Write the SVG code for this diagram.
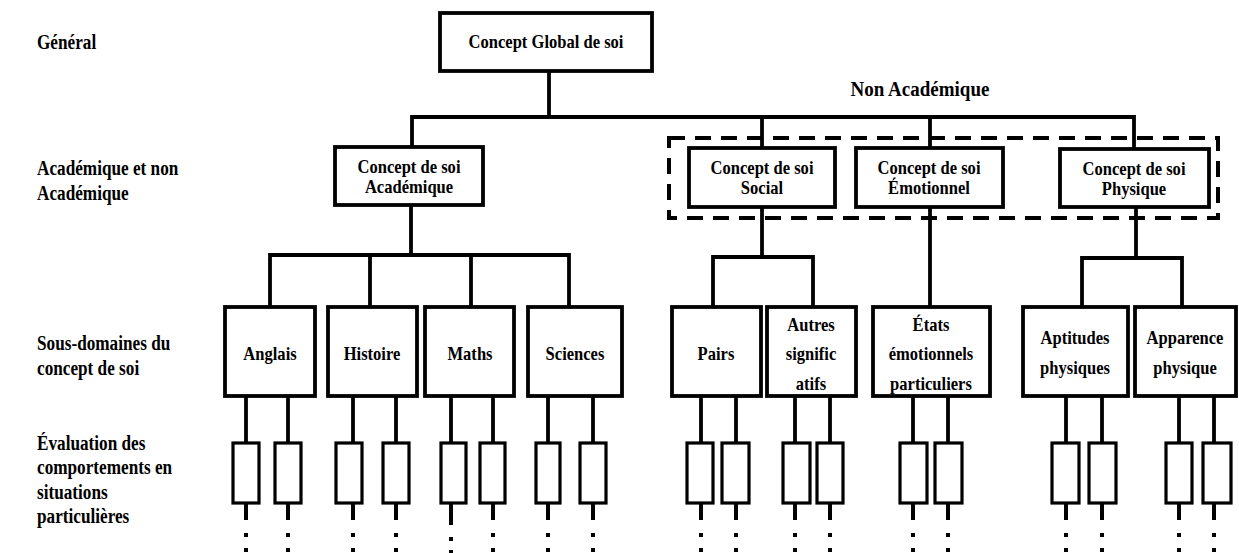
<svg xmlns="http://www.w3.org/2000/svg" width="1239" height="553" viewBox="0 0 1239 553" font-family="'Liberation Serif', 'DejaVu Serif', serif">
<defs>
<style>
text{font-family:'Liberation Serif','DejaVu Serif',serif;font-weight:700;fill:#000}
.lbl{font-size:20px}
.bt{font-size:18px;text-anchor:middle}
.box{fill:#fff;stroke:#000;stroke-width:3.8}
.sb{fill:#fff;stroke:#000;stroke-width:3.2}
.ln{fill:none;stroke:#000;stroke-width:3.8}
.dt{fill:none;stroke:#000;stroke-width:4;stroke-dasharray:17 13 4 11 4 20}
.dash{fill:none;stroke:#000;stroke-width:4;stroke-dasharray:16 10}
</style>
</defs>
<rect width="1239" height="553" fill="#fff"/>

<g id="level-labels">
<text class="lbl" transform="matrix(0.86,0,0,1,37,49)">Général</text>
<text class="lbl" transform="matrix(0.86,0,0,1,37,175)">Académique et non</text>
<text class="lbl" transform="matrix(0.86,0,0,1,37,200)">Académique</text>
<text class="lbl" transform="matrix(0.86,0,0,1,37,350)">Sous-domaines du</text>
<text class="lbl" transform="matrix(0.86,0,0,1,37,375)">concept de soi</text>
<text class="lbl" transform="matrix(0.86,0,0,1,37,450)">Évaluation des</text>
<text class="lbl" transform="matrix(0.86,0,0,1,37,474)">comportements en</text>
<text class="lbl" transform="matrix(0.86,0,0,1,37,499)">situations</text>
<text class="lbl" transform="matrix(0.86,0,0,1,37,523)">particulières</text>
<text transform="matrix(0.95,0,0,1,920,96)" style="font-size:20px;text-anchor:middle">Non Académique</text>
</g>

<g id="connectors">
<path class="ln" d="M549,71 V117"/>
<path class="ln" d="M412,147 V117 H1134 V149"/>
<path class="ln" d="M762,117 V148 M930,117 V148"/>
<path class="ln" d="M411,205 V255"/>
<path class="ln" d="M270,307 V255 H569 V307 M370,255 V307 M471,255 V307"/>
<path class="ln" d="M762,207 V257"/>
<path class="ln" d="M713,307 V257 H813 V307"/>
<path class="ln" d="M930,207 V306"/>
<path class="ln" d="M1136,207 V258"/>
<path class="ln" d="M1082,307 V258 H1182 V307"/>
<path class="ln" d="M246,396 V443 M288,396 V443 M353,396 V443 M396,396 V443 M451,396 V443 M493,396 V443 M548,396 V443 M593,396 V443 M701,396 V443 M736,396 V443 M795,396 V443 M830,396 V443 M913,396 V443 M948,396 V443 M1066,396 V443 M1102,396 V443 M1179,396 V443 M1214,396 V443"/>
<path class="dt" d="M246,503 V553 M288,503 V553 M353,503 V553 M396,503 V553 M493,503 V553 M548,503 V553 M593,503 V553 M701,503 V553 M736,503 V553 M795,503 V553 M830,503 V553 M913,503 V553 M948,503 V553 M1066,503 V553 M1102,503 V553 M1179,503 V553 M1214,503 V553"/>
<path class="dt" d="M451,503 V553" style="stroke-dasharray:22 12 4 9 4 20"/>
</g>

<g id="non-academique-group">
<rect class="dash" x="669" y="138" width="549" height="80"/>
</g>

<g id="global">
<rect class="box" x="440" y="13" width="212" height="58"/>
<text class="bt" transform="matrix(0.92,0,0,1,546,48)">Concept Global de soi</text>
</g>

<g id="academique">
<rect class="box" x="335" y="147" width="148" height="58"/>
<text class="bt" transform="matrix(0.92,0,0,1,409,173)">Concept de soi</text>
<text class="bt" transform="matrix(0.92,0,0,1,409,193)">Académique</text>
</g>
<g id="social">
<rect class="box" x="689" y="148" width="146" height="59"/>
<text class="bt" transform="matrix(0.92,0,0,1,762,174)">Concept de soi</text>
<text class="bt" transform="matrix(0.92,0,0,1,762,194)">Social</text>
</g>
<g id="emotionnel">
<rect class="box" x="856" y="148" width="147" height="59"/>
<text class="bt" transform="matrix(0.92,0,0,1,929,174)">Concept de soi</text>
<text class="bt" transform="matrix(0.92,0,0,1,929,194)">Émotionnel</text>
</g>
<g id="physique">
<rect class="box" x="1060" y="149" width="149" height="58"/>
<text class="bt" transform="matrix(0.92,0,0,1,1134,175)">Concept de soi</text>
<text class="bt" transform="matrix(0.92,0,0,1,1134,195)">Physique</text>
</g>

<g id="anglais"><rect class="box" x="225" y="307" width="90" height="89"/><text class="bt" transform="matrix(0.92,0,0,1,270,360)">Anglais</text></g>
<g id="histoire"><rect class="box" x="328" y="307" width="89" height="89"/><text class="bt" transform="matrix(0.92,0,0,1,372,360)">Histoire</text></g>
<g id="maths"><rect class="box" x="425" y="307" width="89" height="89"/><text class="bt" transform="matrix(0.92,0,0,1,470,360)">Maths</text></g>
<g id="sciences"><rect class="box" x="528" y="307" width="94" height="89"/><text class="bt" transform="matrix(0.92,0,0,1,575,360)">Sciences</text></g>
<g id="pairs"><rect class="box" x="672" y="307" width="89" height="89"/><text class="bt" transform="matrix(0.92,0,0,1,716,360)">Pairs</text></g>
<g id="autres"><rect class="box" x="767" y="307" width="89" height="89"/>
<text class="bt" transform="matrix(0.92,0,0,1,811,331)">Autres</text><text class="bt" transform="matrix(0.92,0,0,1,811,360)">signific</text><text class="bt" transform="matrix(0.92,0,0,1,811,390)">atifs</text></g>
<g id="etats"><rect class="box" x="873" y="307" width="117" height="89"/>
<text class="bt" transform="matrix(0.92,0,0,1,931,331)">États</text><text class="bt" transform="matrix(0.92,0,0,1,931,360)">émotionnels</text><text class="bt" transform="matrix(0.92,0,0,1,931,390)">particuliers</text></g>
<g id="aptitudes"><rect class="box" x="1023" y="307" width="105" height="89"/>
<text class="bt" transform="matrix(0.92,0,0,1,1075,344)">Aptitudes</text><text class="bt" transform="matrix(0.92,0,0,1,1075,374)">physiques</text></g>
<g id="apparence"><rect class="box" x="1135" y="307" width="101" height="89"/>
<text class="bt" transform="matrix(0.92,0,0,1,1185,344)">Apparence</text><text class="bt" transform="matrix(0.92,0,0,1,1185,374)">physique</text></g>

<g id="situations">
<rect class="sb" x="233" y="443" width="26" height="60"/><rect class="sb" x="275" y="443" width="26" height="60"/>
<rect class="sb" x="336" y="443" width="26" height="60"/><rect class="sb" x="383" y="443" width="26" height="60"/>
<rect class="sb" x="441" y="443" width="25" height="60"/><rect class="sb" x="480" y="443" width="25" height="60"/>
<rect class="sb" x="536" y="443" width="24" height="60"/><rect class="sb" x="580" y="443" width="26" height="60"/>
<rect class="sb" x="687" y="443" width="26" height="60"/><rect class="sb" x="722" y="443" width="27" height="60"/>
<rect class="sb" x="783" y="443" width="27" height="60"/><rect class="sb" x="817" y="443" width="26" height="60"/>
<rect class="sb" x="900" y="443" width="27" height="60"/><rect class="sb" x="935" y="443" width="27" height="60"/>
<rect class="sb" x="1052" y="443" width="27" height="60"/><rect class="sb" x="1089" y="443" width="27" height="60"/>
<rect class="sb" x="1166" y="443" width="26" height="60"/><rect class="sb" x="1203" y="443" width="28" height="60"/>
</g>
</svg>
